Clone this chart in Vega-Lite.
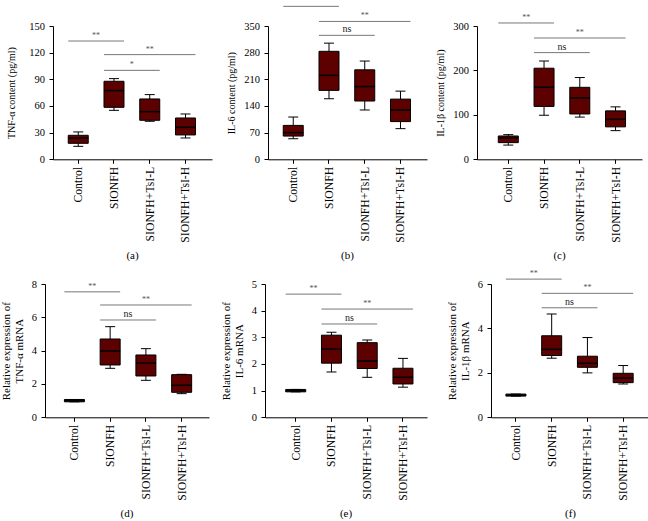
{
"$schema": "https://vega.github.io/schema/vega-lite/v6.json",
"background": "white",
"padding": {"left": 0, "top": -3, "right": 0, "bottom": 0},
"datasets": {
"box": [
{"panel":"a","group":"Control","min":14.6,"q1":18,"med":24,"q3":27,"max":30.8},
{"panel":"a","group":"SIONFH","min":55.1,"q1":58.5,"med":77.3,"q3":87.8,"max":90.8},
{"panel":"a","group":"SIONFH+TsI-L","min":42.8,"q1":43.9,"med":53.6,"q3":67.9,"max":72.8},
{"panel":"a","group":"SIONFH+TsI-H","min":24,"q1":27.4,"med":36,"q3":46.5,"max":51},
{"panel":"b","group":"Control","min":54,"q1":61,"med":70,"q3":89,"max":111},
{"panel":"b","group":"SIONFH","min":159,"q1":181,"med":220.5,"q3":283.5,"max":305},
{"panel":"b","group":"SIONFH+TsI-L","min":129.5,"q1":153,"med":191,"q3":235,"max":258},
{"panel":"b","group":"SIONFH+TsI-H","min":80.5,"q1":99,"med":129.5,"q3":158,"max":179},
{"panel":"c","group":"Control","min":32,"q1":37.5,"med":48,"q3":52.5,"max":55.5},
{"panel":"c","group":"SIONFH","min":99,"q1":119,"med":162,"q3":205,"max":221},
{"panel":"c","group":"SIONFH+TsI-L","min":95,"q1":102,"med":138,"q3":162,"max":184},
{"panel":"c","group":"SIONFH+TsI-H","min":64.5,"q1":73,"med":90,"q3":109,"max":118},
{"panel":"d","group":"Control","min":0.93,"q1":0.93,"med":1,"q3":1.07,"max":1.07},
{"panel":"d","group":"SIONFH","min":2.94,"q1":3.14,"med":3.98,"q3":4.7,"max":5.44},
{"panel":"d","group":"SIONFH+TsI-L","min":2.22,"q1":2.48,"med":3.26,"q3":3.74,"max":4.12},
{"panel":"d","group":"SIONFH+TsI-H","min":1.42,"q1":1.5,"med":1.92,"q3":2.56,"max":2.58},
{"panel":"e","group":"Control","min":0.955,"q1":0.955,"med":1,"q3":1.045,"max":1.045},
{"panel":"e","group":"SIONFH","min":1.7,"q1":2.03,"med":2.56,"q3":3.08,"max":3.19},
{"panel":"e","group":"SIONFH+TsI-L","min":1.5,"q1":1.83,"med":2.11,"q3":2.8,"max":2.9},
{"panel":"e","group":"SIONFH+TsI-H","min":1.13,"q1":1.25,"med":1.5,"q3":1.84,"max":2.21},
{"panel":"f","group":"Control","min":0.955,"q1":0.955,"med":0.99,"q3":1.045,"max":1.045},
{"panel":"f","group":"SIONFH","min":2.66,"q1":2.78,"med":3.06,"q3":3.67,"max":4.65},
{"panel":"f","group":"SIONFH+TsI-L","min":2.0,"q1":2.25,"med":2.43,"q3":2.75,"max":3.59},
{"panel":"f","group":"SIONFH+TsI-H","min":1.5,"q1":1.56,"med":1.77,"q3":1.98,"max":2.33}
],
"sig": [
{"panel":"a","i1":0,"i2":1,"y":133.1,"label":"**"},
{"panel":"a","i1":1,"i2":3,"y":117.8,"label":"**"},
{"panel":"a","i1":1,"i2":2,"y":100.1,"label":"*"},
{"panel":"b","i1":0,"i2":1,"y":401.6,"label":"**"},
{"panel":"b","i1":1,"i2":3,"y":362,"label":"**"},
{"panel":"b","i1":1,"i2":2,"y":325.5,"label":"ns"},
{"panel":"c","i1":0,"i2":1,"y":306.8,"label":"**"},
{"panel":"c","i1":1,"i2":3,"y":273,"label":"**"},
{"panel":"c","i1":1,"i2":2,"y":240.1,"label":"ns"},
{"panel":"d","i1":0,"i2":1,"y":7.53,"label":"**"},
{"panel":"d","i1":1,"i2":3,"y":6.74,"label":"**"},
{"panel":"d","i1":1,"i2":2,"y":5.84,"label":"ns"},
{"panel":"e","i1":0,"i2":1,"y":4.62,"label":"**"},
{"panel":"e","i1":1,"i2":3,"y":4.06,"label":"**"},
{"panel":"e","i1":1,"i2":2,"y":3.5,"label":"ns"},
{"panel":"f","i1":0,"i2":1,"y":6.22,"label":"**"},
{"panel":"f","i1":1,"i2":3,"y":5.58,"label":"**"},
{"panel":"f","i1":1,"i2":2,"y":4.93,"label":"ns"}
]
},
"vconcat": [
{"hconcat": [
{"width":159,"height":133.3,"title":{"text":"(a)"},
"layer":[
{"data":{"name":"box"},"transform":[{"filter":"datum.panel == 'a'"}],
"encoding":{"x":{"field":"group","type":"nominal","title":null,"scale":{"domain":["Control","SIONFH","SIONFH+TsI-L","SIONFH+TsI-H"],"paddingInner":0.4406,"paddingOuter":0.4441,"align":0.48}}},
"layer":[
{"mark":{"type":"rule","color":"black","strokeWidth":1},"encoding":{"y":{"field":"min","type":"quantitative","title":"TNF-α content (pg/ml)","scale":{"domain":[0,150],"nice":false},"axis":{"values":[0,30,60,90,120,150],"format":"d","tickCount":20,"labelOverlap":false,"titlePadding":12}},"y2":{"field":"max"}}},
{"mark":{"type":"bar","fill":"#5c0000","stroke":"black","strokeWidth":1},"encoding":{"y":{"field":"q1","type":"quantitative","title":"TNF-α content (pg/ml)"},"y2":{"field":"q3"}}},
{"mark":{"type":"tick","orient":"horizontal","size":20,"thickness":1.5,"color":"black","opacity":1},"encoding":{"y":{"field":"med","type":"quantitative","title":"TNF-α content (pg/ml)"}}},
{"mark":{"type":"tick","orient":"horizontal","size":10,"thickness":1,"color":"black","opacity":1},"encoding":{"y":{"field":"min","type":"quantitative","title":"TNF-α content (pg/ml)"}}},
{"mark":{"type":"tick","orient":"horizontal","size":10,"thickness":1,"color":"black","opacity":1},"encoding":{"y":{"field":"max","type":"quantitative","title":"TNF-α content (pg/ml)"}}}
]},
{"data":{"name":"sig"},"transform":[{"filter":"datum.panel == 'a'"},{"calculate":"(datum.i1 + datum.i2) / 2","as":"mid"}],
"encoding":{"y":{"field":"y","type":"quantitative","title":"TNF-α content (pg/ml)"}},
"layer":[
{"mark":{"type":"rule","color":"#777777","strokeWidth":1,"xOffset":-10,"x2Offset":10},"encoding":{"x":{"field":"i1","type":"quantitative","scale":{"domain":[-0.706,3.742],"nice":false,"zero":false},"axis":null},"x2":{"field":"i2"}}},
{"transform":[{"filter":"datum.label != 'ns'"}],"mark":{"type":"text","baseline":"bottom","dy":-1,"fontSize":8,"color":"#555555"},"encoding":{"x":{"field":"mid","type":"quantitative","axis":null},"text":{"field":"label"}}},
{"transform":[{"filter":"datum.label == 'ns'"}],"mark":{"type":"text","baseline":"bottom","dy":-1,"fontSize":10,"color":"#222222"},"encoding":{"x":{"field":"mid","type":"quantitative","axis":null},"text":{"field":"label"}}}
]}
],
"resolve":{"scale":{"x":"independent"}}},
{"hconcat":[
{"width":159,"height":133.3,"title":{"text":"(b)"},
"layer":[
{"data":{"name":"box"},"transform":[{"filter":"datum.panel == 'b'"}],
"encoding":{"x":{"field":"group","type":"nominal","title":null,"scale":{"domain":["Control","SIONFH","SIONFH+TsI-L","SIONFH+TsI-H"],"paddingInner":0.4406,"paddingOuter":0.4441,"align":0.48}}},
"layer":[
{"mark":{"type":"rule","color":"black","strokeWidth":1},"encoding":{"y":{"field":"min","type":"quantitative","title":"IL-6 content (pg/ml)","scale":{"domain":[0,350],"nice":false},"axis":{"values":[0,70,140,210,280,350],"format":"d","tickCount":20,"labelOverlap":false}},"y2":{"field":"max"}}},
{"mark":{"type":"bar","fill":"#5c0000","stroke":"black","strokeWidth":1},"encoding":{"y":{"field":"q1","type":"quantitative","title":"IL-6 content (pg/ml)"},"y2":{"field":"q3"}}},
{"mark":{"type":"tick","orient":"horizontal","size":20,"thickness":1.5,"color":"black","opacity":1},"encoding":{"y":{"field":"med","type":"quantitative","title":"IL-6 content (pg/ml)"}}},
{"mark":{"type":"tick","orient":"horizontal","size":10,"thickness":1,"color":"black","opacity":1},"encoding":{"y":{"field":"min","type":"quantitative","title":"IL-6 content (pg/ml)"}}},
{"mark":{"type":"tick","orient":"horizontal","size":10,"thickness":1,"color":"black","opacity":1},"encoding":{"y":{"field":"max","type":"quantitative","title":"IL-6 content (pg/ml)"}}}
]},
{"data":{"name":"sig"},"transform":[{"filter":"datum.panel == 'b'"},{"calculate":"(datum.i1 + datum.i2) / 2","as":"mid"}],
"encoding":{"y":{"field":"y","type":"quantitative","title":"IL-6 content (pg/ml)"}},
"layer":[
{"mark":{"type":"rule","color":"#777777","strokeWidth":1,"xOffset":-10,"x2Offset":10},"encoding":{"x":{"field":"i1","type":"quantitative","scale":{"domain":[-0.706,3.742],"nice":false,"zero":false},"axis":null},"x2":{"field":"i2"}}},
{"transform":[{"filter":"datum.label != 'ns'"}],"mark":{"type":"text","baseline":"bottom","dy":-1,"fontSize":8,"color":"#555555"},"encoding":{"x":{"field":"mid","type":"quantitative","axis":null},"text":{"field":"label"}}},
{"transform":[{"filter":"datum.label == 'ns'"}],"mark":{"type":"text","baseline":"bottom","dy":-1,"fontSize":10,"color":"#222222"},"encoding":{"x":{"field":"mid","type":"quantitative","axis":null},"text":{"field":"label"}}}
]}
],
"resolve":{"scale":{"x":"independent"}}},
{"width":165,"height":133.3,"title":{"text":"(c)"},
"layer":[
{"data":{"name":"box"},"transform":[{"filter":"datum.panel == 'c'"}],
"encoding":{"x":{"field":"group","type":"nominal","title":null,"scale":{"domain":["Control","SIONFH","SIONFH+TsI-L","SIONFH+TsI-H"],"paddingInner":0.4406,"paddingOuter":0.528,"align":0.564}}},
"layer":[
{"mark":{"type":"rule","color":"black","strokeWidth":1},"encoding":{"y":{"field":"min","type":"quantitative","title":"IL-1β content (pg/ml)","scale":{"domain":[0,300],"nice":false},"axis":{"values":[0,100,200,300],"format":"d","tickCount":20,"labelOverlap":false}},"y2":{"field":"max"}}},
{"mark":{"type":"bar","fill":"#5c0000","stroke":"black","strokeWidth":1},"encoding":{"y":{"field":"q1","type":"quantitative","title":"IL-1β content (pg/ml)"},"y2":{"field":"q3"}}},
{"mark":{"type":"tick","orient":"horizontal","size":20,"thickness":1.5,"color":"black","opacity":1},"encoding":{"y":{"field":"med","type":"quantitative","title":"IL-1β content (pg/ml)"}}},
{"mark":{"type":"tick","orient":"horizontal","size":10,"thickness":1,"color":"black","opacity":1},"encoding":{"y":{"field":"min","type":"quantitative","title":"IL-1β content (pg/ml)"}}},
{"mark":{"type":"tick","orient":"horizontal","size":10,"thickness":1,"color":"black","opacity":1},"encoding":{"y":{"field":"max","type":"quantitative","title":"IL-1β content (pg/ml)"}}}
]},
{"data":{"name":"sig"},"transform":[{"filter":"datum.panel == 'c'"},{"calculate":"(datum.i1 + datum.i2) / 2","as":"mid"}],
"encoding":{"y":{"field":"y","type":"quantitative","title":"IL-1β content (pg/ml)"}},
"layer":[
{"mark":{"type":"rule","color":"#777777","strokeWidth":1,"xOffset":-10,"x2Offset":10},"encoding":{"x":{"field":"i1","type":"quantitative","scale":{"domain":[-0.875,3.740],"nice":false,"zero":false},"axis":null},"x2":{"field":"i2"}}},
{"transform":[{"filter":"datum.label != 'ns'"}],"mark":{"type":"text","baseline":"bottom","dy":-1,"fontSize":8,"color":"#555555"},"encoding":{"x":{"field":"mid","type":"quantitative","axis":null},"text":{"field":"label"}}},
{"transform":[{"filter":"datum.label == 'ns'"}],"mark":{"type":"text","baseline":"bottom","dy":-1,"fontSize":10,"color":"#222222"},"encoding":{"x":{"field":"mid","type":"quantitative","axis":null},"text":{"field":"label"}}}
]}
],
"resolve":{"scale":{"x":"independent"}}}
],"spacing":50,"bounds":"flush"}
],"spacing":56,"bounds":"flush"},
{"hconcat": [
{"width":164,"height":133.3,"title":{"text":"(d)"},
"layer":[
{"data":{"name":"box"},"transform":[{"filter":"datum.panel == 'd'"}],
"encoding":{"x":{"field":"group","type":"nominal","title":null,"scale":{"domain":["Control","SIONFH","SIONFH+TsI-L","SIONFH+TsI-H"],"paddingInner":0.4406,"paddingOuter":0.514,"align":0.528}}},
"layer":[
{"mark":{"type":"rule","color":"black","strokeWidth":1},"encoding":{"y":{"field":"min","type":"quantitative","title":["Relative expression of","TNF-α mRNA"],"scale":{"domain":[0,8],"nice":false},"axis":{"values":[0,2,4,6,8],"format":"d","tickCount":20,"labelOverlap":false,"titleFontSize":11}},"y2":{"field":"max"}}},
{"mark":{"type":"bar","fill":"#5c0000","stroke":"black","strokeWidth":1},"encoding":{"y":{"field":"q1","type":"quantitative","title":["Relative expression of","TNF-α mRNA"]},"y2":{"field":"q3"}}},
{"mark":{"type":"tick","orient":"horizontal","size":20,"thickness":1.5,"color":"black","opacity":1},"encoding":{"y":{"field":"med","type":"quantitative","title":["Relative expression of","TNF-α mRNA"]}}},
{"mark":{"type":"tick","orient":"horizontal","size":10,"thickness":1,"color":"black","opacity":1},"encoding":{"y":{"field":"min","type":"quantitative","title":["Relative expression of","TNF-α mRNA"]}}},
{"mark":{"type":"tick","orient":"horizontal","size":10,"thickness":1,"color":"black","opacity":1},"encoding":{"y":{"field":"max","type":"quantitative","title":["Relative expression of","TNF-α mRNA"]}}}
]},
{"data":{"name":"sig"},"transform":[{"filter":"datum.panel == 'd'"},{"calculate":"(datum.i1 + datum.i2) / 2","as":"mid"}],
"encoding":{"y":{"field":"y","type":"quantitative","title":["Relative expression of","TNF-α mRNA"]}},
"layer":[
{"mark":{"type":"rule","color":"#777777","strokeWidth":1,"xOffset":-10,"x2Offset":10},"encoding":{"x":{"field":"i1","type":"quantitative","scale":{"domain":[-0.822,3.765],"nice":false,"zero":false},"axis":null},"x2":{"field":"i2"}}},
{"transform":[{"filter":"datum.label != 'ns'"}],"mark":{"type":"text","baseline":"bottom","dy":-1,"fontSize":8,"color":"#555555"},"encoding":{"x":{"field":"mid","type":"quantitative","axis":null},"text":{"field":"label"}}},
{"transform":[{"filter":"datum.label == 'ns'"}],"mark":{"type":"text","baseline":"bottom","dy":-1,"fontSize":10,"color":"#222222"},"encoding":{"x":{"field":"mid","type":"quantitative","axis":null},"text":{"field":"label"}}}
]}
],
"resolve":{"scale":{"x":"independent"}}},
{"hconcat":[
{"width":162,"height":133.3,"title":{"text":"(e)"},
"layer":[
{"data":{"name":"box"},"transform":[{"filter":"datum.panel == 'e'"}],
"encoding":{"x":{"field":"group","type":"nominal","title":null,"scale":{"domain":["Control","SIONFH","SIONFH+TsI-L","SIONFH+TsI-H"],"paddingInner":0.4406,"paddingOuter":0.486,"align":0.596}}},
"layer":[
{"mark":{"type":"rule","color":"black","strokeWidth":1},"encoding":{"y":{"field":"min","type":"quantitative","title":["Relative expression of","IL-6 mRNA"],"scale":{"domain":[0,5],"nice":false},"axis":{"values":[0,1,2,3,4,5],"format":"d","tickCount":20,"labelOverlap":false,"titleFontSize":11}},"y2":{"field":"max"}}},
{"mark":{"type":"bar","fill":"#5c0000","stroke":"black","strokeWidth":1},"encoding":{"y":{"field":"q1","type":"quantitative","title":["Relative expression of","IL-6 mRNA"]},"y2":{"field":"q3"}}},
{"mark":{"type":"tick","orient":"horizontal","size":20,"thickness":1.5,"color":"black","opacity":1},"encoding":{"y":{"field":"med","type":"quantitative","title":["Relative expression of","IL-6 mRNA"]}}},
{"mark":{"type":"tick","orient":"horizontal","size":10,"thickness":1,"color":"black","opacity":1},"encoding":{"y":{"field":"min","type":"quantitative","title":["Relative expression of","IL-6 mRNA"]}}},
{"mark":{"type":"tick","orient":"horizontal","size":10,"thickness":1,"color":"black","opacity":1},"encoding":{"y":{"field":"max","type":"quantitative","title":["Relative expression of","IL-6 mRNA"]}}}
]},
{"data":{"name":"sig"},"transform":[{"filter":"datum.panel == 'e'"},{"calculate":"(datum.i1 + datum.i2) / 2","as":"mid"}],
"encoding":{"y":{"field":"y","type":"quantitative","title":["Relative expression of","IL-6 mRNA"]}},
"layer":[
{"mark":{"type":"rule","color":"#777777","strokeWidth":1,"xOffset":-10,"x2Offset":10},"encoding":{"x":{"field":"i1","type":"quantitative","scale":{"domain":[-0.859,3.672],"nice":false,"zero":false},"axis":null},"x2":{"field":"i2"}}},
{"transform":[{"filter":"datum.label != 'ns'"}],"mark":{"type":"text","baseline":"bottom","dy":-1,"fontSize":8,"color":"#555555"},"encoding":{"x":{"field":"mid","type":"quantitative","axis":null},"text":{"field":"label"}}},
{"transform":[{"filter":"datum.label == 'ns'"}],"mark":{"type":"text","baseline":"bottom","dy":-1,"fontSize":10,"color":"#222222"},"encoding":{"x":{"field":"mid","type":"quantitative","axis":null},"text":{"field":"label"}}}
]}
],
"resolve":{"scale":{"x":"independent"}}},
{"width":159,"height":133.3,"title":{"text":"(f)"},
"layer":[
{"data":{"name":"box"},"transform":[{"filter":"datum.panel == 'f'"}],
"encoding":{"x":{"field":"group","type":"nominal","title":null,"scale":{"domain":["Control","SIONFH","SIONFH+TsI-L","SIONFH+TsI-H"],"paddingInner":0.4406,"paddingOuter":0.4441,"align":0.47}}},
"layer":[
{"mark":{"type":"rule","color":"black","strokeWidth":1},"encoding":{"y":{"field":"min","type":"quantitative","title":["Relative expression of","IL-1β mRNA"],"scale":{"domain":[0,6],"nice":false},"axis":{"values":[0,2,4,6],"format":"d","tickCount":20,"labelOverlap":false,"titleFontSize":11}},"y2":{"field":"max"}}},
{"mark":{"type":"bar","fill":"#5c0000","stroke":"black","strokeWidth":1},"encoding":{"y":{"field":"q1","type":"quantitative","title":["Relative expression of","IL-1β mRNA"]},"y2":{"field":"q3"}}},
{"mark":{"type":"tick","orient":"horizontal","size":20,"thickness":1.5,"color":"black","opacity":1},"encoding":{"y":{"field":"med","type":"quantitative","title":["Relative expression of","IL-1β mRNA"]}}},
{"mark":{"type":"tick","orient":"horizontal","size":10,"thickness":1,"color":"black","opacity":1},"encoding":{"y":{"field":"min","type":"quantitative","title":["Relative expression of","IL-1β mRNA"]}}},
{"mark":{"type":"tick","orient":"horizontal","size":10,"thickness":1,"color":"black","opacity":1},"encoding":{"y":{"field":"max","type":"quantitative","title":["Relative expression of","IL-1β mRNA"]}}}
]},
{"data":{"name":"sig"},"transform":[{"filter":"datum.panel == 'f'"},{"calculate":"(datum.i1 + datum.i2) / 2","as":"mid"}],
"encoding":{"y":{"field":"y","type":"quantitative","title":["Relative expression of","IL-1β mRNA"]}},
"layer":[
{"mark":{"type":"rule","color":"#777777","strokeWidth":1,"xOffset":-10,"x2Offset":10},"encoding":{"x":{"field":"i1","type":"quantitative","scale":{"domain":[-0.697,3.750],"nice":false,"zero":false},"axis":null},"x2":{"field":"i2"}}},
{"transform":[{"filter":"datum.label != 'ns'"}],"mark":{"type":"text","baseline":"bottom","dy":-1,"fontSize":8,"color":"#555555"},"encoding":{"x":{"field":"mid","type":"quantitative","axis":null},"text":{"field":"label"}}},
{"transform":[{"filter":"datum.label == 'ns'"}],"mark":{"type":"text","baseline":"bottom","dy":-1,"fontSize":10,"color":"#222222"},"encoding":{"x":{"field":"mid","type":"quantitative","axis":null},"text":{"field":"label"}}}
]}
],
"resolve":{"scale":{"x":"independent"}}}
],"spacing":64,"bounds":"flush"}
],"spacing":56,"bounds":"flush"}
],
"spacing": 8,
"center": true,
"config": {
"font": "Liberation Serif",
"view": {"stroke": null},
"axis": {"domainColor":"black","tickColor":"black","labelColor":"black","titleColor":"black","grid":false,"tickSize":4,"labelFont":"Liberation Serif","titleFont":"Liberation Serif","titleFontWeight":"normal","domainWidth":1,"tickWidth":1},
"axisX": {"labelFontSize":11.7,"labelPadding":3,"labelAngle":-90},
"axisY": {"labelFontSize":10.5,"labelPadding":4.5,"labelOverlap":false,"titleFontSize":10,"titlePadding":7,"titleLineHeight":13},
"title": {"orient":"bottom","fontSize":11,"fontWeight":"normal","font":"Liberation Serif","offset":8,"color":"black"},
"text": {"font":"Liberation Serif"}
}
}
